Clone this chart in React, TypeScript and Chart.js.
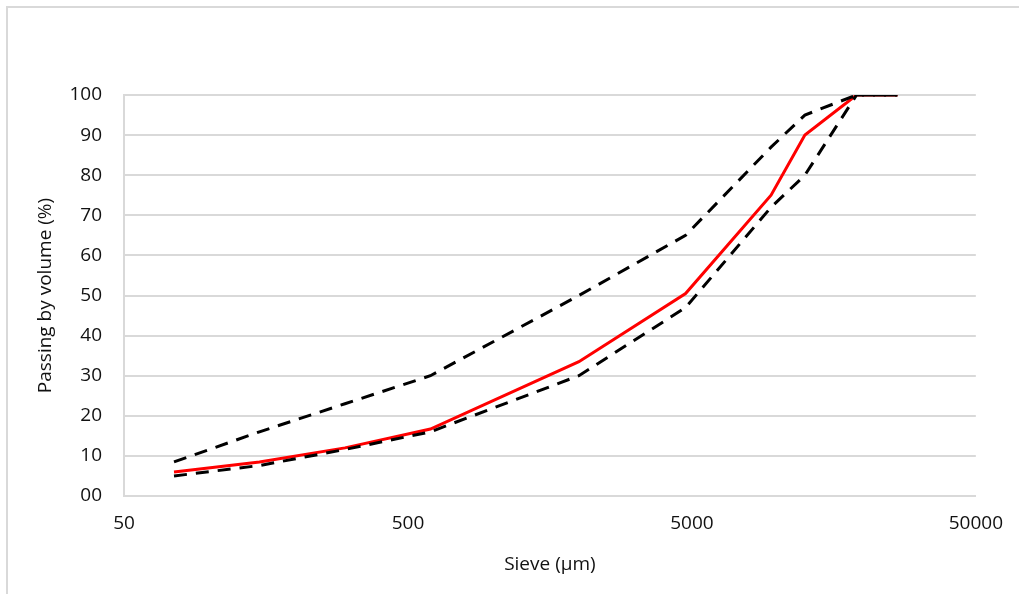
import React, { useEffect, useRef } from "react";
import { Chart, registerables } from "chart.js";

Chart.register(...registerables);

const sieveSizes = [75, 150, 300, 600, 2000, 4750, 9500, 12500, 19000, 26500];
const samplePassing = [6, 8.5, 12, 16.7, 33.5, 50.5, 75, 90, 100, 100];
const upperLimit = [8.5, 16, 23, 30, 50, 65, 87, 95, 100, 100];
const lowerLimit = [5, 7.6, 11.6, 16, 30, 47, 72, 80, 100, 100];
const xTickValues = [50, 500, 5000, 50000];
const yTickValues = [0, 10, 20, 30, 40, 50, 60, 70, 80, 90, 100];

const FONT = "'Open Sans', 'Liberation Sans', sans-serif";
const TEXT = "#111111";
const GRID = "#d9d9d9";

export default function App() {
  const ref = useRef<HTMLCanvasElement | null>(null);

  useEffect(() => {
    if (!ref.current) return;
    const toPts = (ys: number[]) => sieveSizes.map((x, i) => ({ x, y: ys[i] }));
    const chart = new Chart(ref.current, {
      type: "line",
      data: {
        datasets: [
          {
            label: "Upper limit",
            data: toPts(upperLimit),
            borderColor: "#000000",
            borderWidth: 3,
            borderDash: [13, 9],
            pointRadius: 0,
            fill: false,
            tension: 0,
          },
          {
            label: "Lower limit",
            data: toPts(lowerLimit),
            borderColor: "#000000",
            borderWidth: 3,
            borderDash: [13, 9],
            pointRadius: 0,
            fill: false,
            tension: 0,
          },
          {
            label: "Sample",
            data: toPts(samplePassing),
            borderColor: "#ff0000",
            borderWidth: 3,
            pointRadius: 0,
            fill: false,
            tension: 0,
          },
        ],
      },
      options: {
        responsive: false,
        animation: false,
        layout: { padding: { top: 95, right: 43, bottom: 0, left: 0 } },
        plugins: {
          legend: { display: false },
          tooltip: { enabled: false },
          title: { display: false },
        },
        scales: {
          x: {
            type: "logarithmic",
            min: 50,
            max: 50000,
            afterBuildTicks: (scale: any) => {
              scale.ticks = xTickValues.map((v) => ({ value: v }));
            },
            afterFit: (scale: any) => {
              scale.height = 98;
            },
            grid: { display: false, drawTicks: false },
            border: { display: true, color: GRID, width: 2 },
            ticks: {
              autoSkip: false,
              maxRotation: 0,
              padding: 16,
              color: TEXT,
              font: { family: FONT, size: 19 },
              callback: (v: any) => String(v),
            },
            title: {
              display: true,
              text: "Sieve (µm)",
              color: TEXT,
              font: { family: FONT, size: 19 },
              padding: { top: 0, bottom: 18 },
            },
          },
          y: {
            min: 0,
            max: 100,
            afterBuildTicks: (scale: any) => {
              scale.ticks = yTickValues.map((v) => ({ value: v }));
            },
            afterFit: (scale: any) => {
              scale.width = 124;
            },
            grid: { display: true, color: GRID, lineWidth: 2, drawTicks: false },
            border: { display: true, color: GRID, width: 2 },
            ticks: {
              padding: 22,
              color: TEXT,
              font: { family: FONT, size: 19 },
              callback: (v: any) => (v === 0 ? "00" : String(v)),
            },
            title: {
              display: true,
              text: "Passing by volume (%)",
              color: TEXT,
              font: { family: FONT, size: 19 },
              padding: { top: 34, bottom: 0 },
            },
          },
        },
      },
    });
    return () => chart.destroy();
  }, []);

  return (
    <div
      style={{
        position: "absolute",
        left: 0,
        top: 0,
        width: 1019,
        height: 594,
        overflow: "hidden",
        background: "#ffffff",
      }}
    >
      <div
        style={{
          position: "absolute",
          left: 6,
          top: 6,
          width: 1100,
          height: 700,
          borderLeft: `2px solid ${GRID}`,
          borderTop: `2px solid ${GRID}`,
        }}
      />
      <canvas
        ref={ref}
        width={1019}
        height={594}
        style={{ position: "absolute", left: 0, top: 0, width: 1019, height: 594 }}
      />
    </div>
  );
}
